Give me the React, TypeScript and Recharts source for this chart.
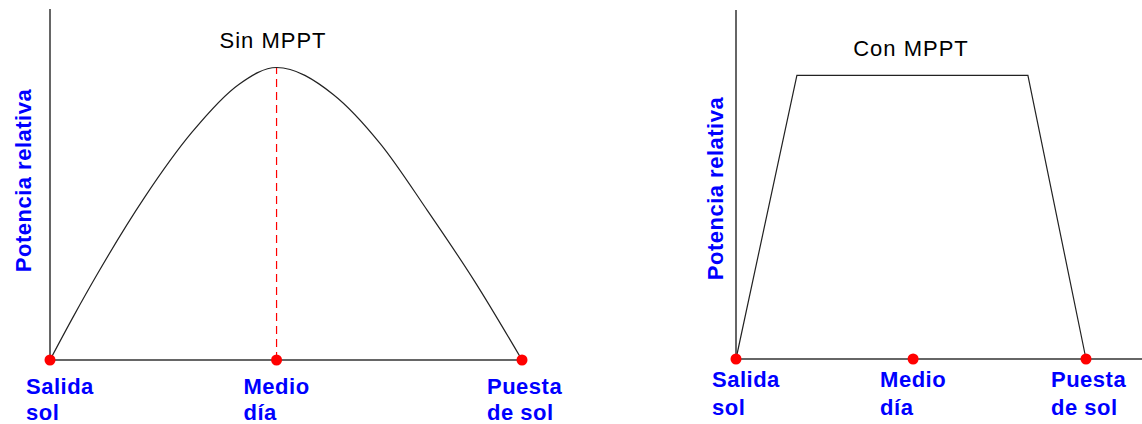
import { ComposedChart, Line, Scatter, XAxis, YAxis, ReferenceLine } from "recharts";

// tick labels (two lines each) shared by both panels
const TIME_LABELS = [
  ["Salida", "sol"],
  ["Medio", "día"],
  ["Puesta", "de sol"],
];
const Y_LABEL = "Potencia relativa";

// Sin MPPT: x = % of daylight, y = relative power
const SIN_TITLE = "Sin MPPT";
const SIN_TICKS = [0, 48, 100];
const SIN_X = [0, 5, 10, 20, 30, 40, 48, 60, 70, 80, 90, 100];
const SIN_Y = [0, 15, 29.3, 55.5, 77.7, 94.2, 100, 90.8, 73.9, 51, 26.8, 0];
const SIN_PEAK = 100;

// Con MPPT
const CON_TITLE = "Con MPPT";
const CON_TICKS = [0, 50.6, 100];
const CON_X = [0, 17.4, 83.4, 100];
const CON_Y = [0, 97.5, 97.5, 0];

const FONT = '"Liberation Sans", Arial, sans-serif';
const BLUE = "#0000ff";
const RED = "#ff0000";
const AXIS = "#333";

const zip = (xs: number[], ys: number[]) => xs.map((x, i) => ({ x, y: ys[i] }));
const sinData = zip(SIN_X, SIN_Y);
const conData = zip(CON_X, CON_Y);
const sinMarkers = SIN_TICKS.map((x) => ({ x, y: 0 }));
const conMarkers = CON_TICKS.map((x) => ({ x, y: 0 }));

const TICK_DX = [-24, -33, -35];

function TimeTick(props: any) {
  const { x, y, index, dy1, dy2 } = props;
  const lines = TIME_LABELS[index] ?? ["", ""];
  const tx = x + TICK_DX[index];
  const style = { fontFamily: FONT, fontSize: 22, fontWeight: 700, letterSpacing: 0.5 };
  return (
    <g>
      <text x={tx} y={y + dy1} fill={BLUE} textAnchor="start" style={style}>{lines[0]}</text>
      <text x={tx} y={y + dy2} fill={BLUE} textAnchor="start" style={style}>{lines[1]}</text>
    </g>
  );
}

function Dot(props: any) {
  return <circle cx={props.cx} cy={props.cy} r={5.5} fill={RED} />;
}

function YLabel({ viewBox, cx, shift }: any) {
  const x = viewBox.x + cx;
  const y = viewBox.y + viewBox.height / 2 + shift;
  return (
    <text
      x={x}
      y={y}
      dy="0.35em"
      transform={`rotate(-90, ${x}, ${y})`}
      textAnchor="middle"
      fill={BLUE}
      style={{ fontFamily: FONT, fontSize: 22, fontWeight: 700, letterSpacing: 0.5 }}
    >
      {Y_LABEL}
    </text>
  );
}

const titleStyle = { fontFamily: FONT, fontSize: 22, letterSpacing: 1 };

export default function App() {
  return (
    <div style={{ position: "absolute", left: 0, top: 0, width: 1142, height: 424, background: "#fff" }}>
      <div style={{ position: "absolute", left: 0, top: 0 }}>
        <ComposedChart width={590} height={424} data={sinData} margin={{ top: 9, right: 68, left: 0, bottom: 0 }}>
          <XAxis
            dataKey="x"
            type="number"
            domain={[0, 100]}
            ticks={SIN_TICKS}
            height={64}
            tickSize={0}
            tickMargin={0}
            stroke={AXIS}
            strokeWidth={1.5}
            interval={0}
            tick={(p: any) => <TimeTick {...p} dy1={34} dy2={60} />}
          />
          <YAxis
            type="number"
            domain={[0, 120]}
            width={50}
            tick={false}
            tickLine={false}
            stroke={AXIS}
            strokeWidth={1.5}
            label={{ content: (p: any) => <YLabel {...p} cx={23} shift={-4} /> }}
          />
          <ReferenceLine
            segment={[{ x: SIN_TICKS[1], y: 0 }, { x: SIN_TICKS[1], y: SIN_PEAK }]}
            stroke={RED}
            strokeWidth={1.2}
            strokeDasharray="8 5"
          />
          <Line type="monotone" dataKey="y" stroke="#222" strokeWidth={1.2} dot={false} isAnimationActive={false} />
          <Scatter data={sinMarkers} dataKey="y" shape={<Dot />} isAnimationActive={false} />
          <text x={273} y={48} textAnchor="middle" fill="#000" style={titleStyle}>{SIN_TITLE}</text>
        </ComposedChart>
      </div>
      <div style={{ position: "absolute", left: 590, top: 0 }}>
        <ComposedChart width={552} height={424} data={conData} margin={{ top: 10, right: 0, left: 0, bottom: 0 }}>
          <XAxis
            dataKey="x"
            type="number"
            domain={[0, 116]}
            ticks={CON_TICKS}
            height={65}
            tickSize={0}
            tickMargin={0}
            stroke={AXIS}
            strokeWidth={1.5}
            interval={0}
            tick={(p: any) => <TimeTick {...p} dy1={28} dy2={56} />}
          />
          <YAxis
            type="number"
            domain={[0, 120]}
            width={146}
            tick={false}
            tickLine={false}
            stroke={AXIS}
            strokeWidth={1.5}
            label={{ content: (p: any) => <YLabel {...p} cx={125} shift={4} /> }}
          />
          <Line type="linear" dataKey="y" stroke="#222" strokeWidth={1.2} dot={false} isAnimationActive={false} />
          <Scatter data={conMarkers} dataKey="y" shape={<Dot />} isAnimationActive={false} />
          <text x={321} y={56} textAnchor="middle" fill="#000" style={titleStyle}>{CON_TITLE}</text>
        </ComposedChart>
      </div>
    </div>
  );
}
